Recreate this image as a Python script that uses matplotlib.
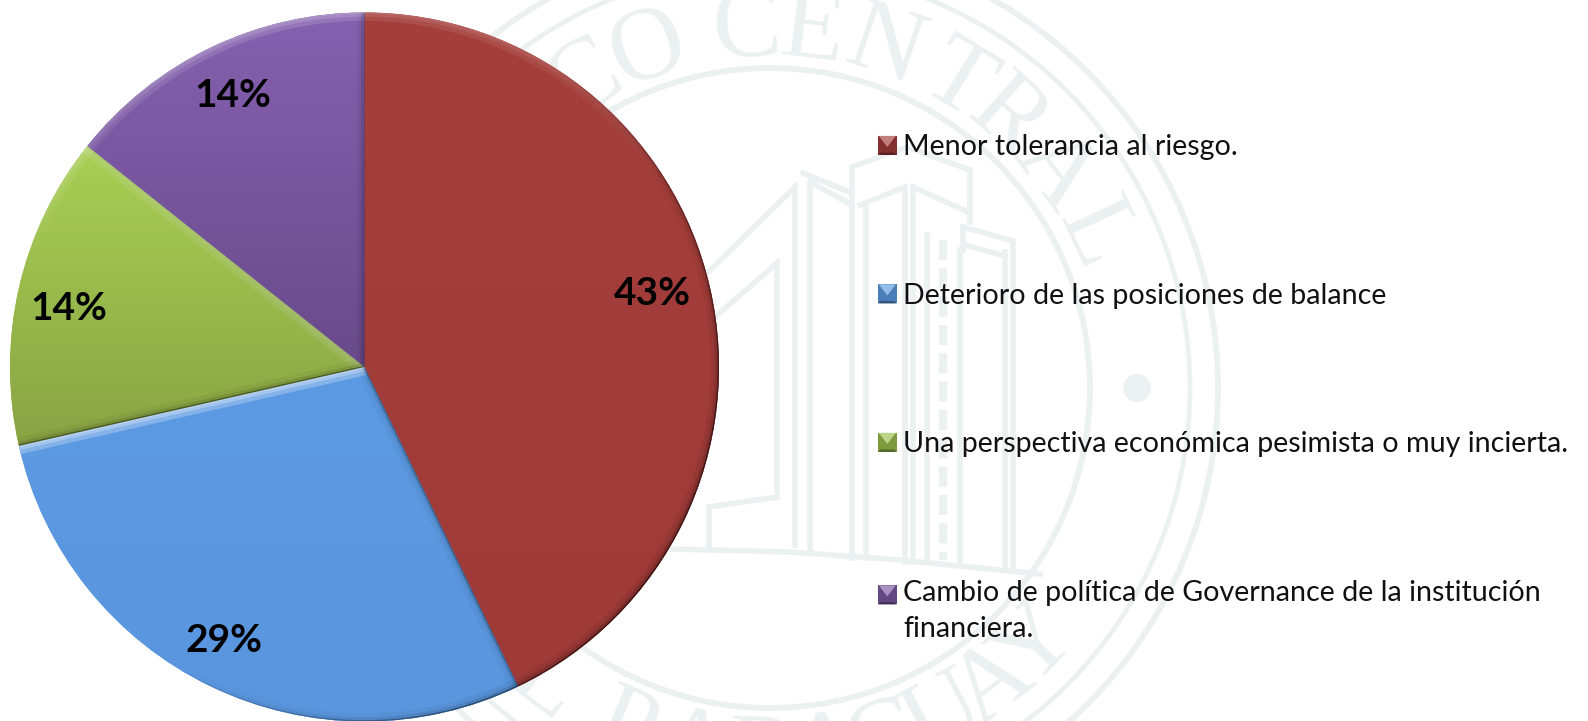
import numpy as np
import matplotlib
matplotlib.use("Agg")
import matplotlib.pyplot as plt
from matplotlib.collections import LineCollection
from matplotlib.colors import to_rgb
from matplotlib.legend_handler import HandlerBase
from matplotlib.patches import Circle, Polygon

categories = ["Menor tolerancia al riesgo.",
              "Deterioro de las posiciones de balance",
              "Una perspectiva económica pesimista o muy incierta.",
              "Cambio de política de Governance de la institución\nfinanciera."]
values = [3, 2, 1, 1]
base_colors = ["#A03B39", "#5B98E0", "#98BD4A", "#7A58A0"]
grad_top = ["#A53F3C", "#5C9AE3", "#A8D053", "#8661B0"]
grad_bottom = ["#9E3A38", "#5A96DE", "#89A444", "#694A8B"]
highlight_gain = [0.9, 2.6, 1.8, 1.4]
label_nudges = [(-6, 6), (-10, -2), (-2, -9), (-1, 0)]

W, H = 1588, 721
WM = "#EBF0F1"
plt.rcParams["font.family"] = ["Lato", "DejaVu Sans"]

fig = plt.figure(figsize=(W / 100, H / 100), dpi=100, facecolor="white")
ax = fig.add_axes([0, 0, 1, 1])

def Y(py):
    return H - py

# ---------- watermark seal ----------
cx, cy = 770, 388
for r, lw in [(448, 4.2), (420, 3.4), (320, 4.2)]:
    ax.add_patch(Circle((cx, Y(cy)), r, fill=False, ec=WM, lw=lw, zorder=1))
ax.add_patch(Circle((1137, Y(388)), 14, fc=WM, ec="none", zorder=1))

top_word = list("BANCOCENTRAL")
top_ang = [-67, -55, -43, -31, -19.8, -3.7, 6.9, 18.7, 31.5, 41.5, 52.8, 64.8]
bot_word = list("DELPARAGUAY")
bot_ang = [243, 230, 217, 203, 192, 181, 171, 162, 152, 143, 134]
for ch, a in zip(top_word, top_ang):
    t = np.radians(a)
    ax.text(cx + 358 * np.sin(t), Y(cy) + 358 * np.cos(t), ch, color=WM,
            family="Liberation Serif", fontsize=74, rotation=-a,
            rotation_mode="anchor", ha="center", va="center", zorder=1)
for ch, a in zip(bot_word, bot_ang):
    t = np.radians(a)
    ax.text(cx + 372 * np.sin(t), Y(cy) + 372 * np.cos(t), ch, color=WM,
            family="Liberation Serif", fontsize=74, rotation=180 - a,
            rotation_mode="anchor", ha="center", va="center", zorder=1)

building = [
    [(700, 280), (795, 187), (795, 545)],
    [(700, 330), (777, 263), (777, 497), (709, 507), (709, 548)],
    [(803, 173), (852, 193)],
    [(810, 185), (810, 552)],
    [(810, 182), (852, 205)],
    [(852, 167), (907, 147), (970, 170), (970, 222)],
    [(852, 167), (852, 558)],
    [(860, 205), (905, 187), (905, 562)],
    [(866, 205), (866, 558)],
    [(913, 187), (970, 213)],
    [(913, 187), (913, 562)],
    [(963, 227), (1013, 241), (1013, 570)],
    [(963, 227), (963, 250)],
    [(1005, 252), (1005, 568)],
    [(965, 245), (1005, 256)],
    [(927, 235), (927, 562)],
    [(960, 250), (960, 565)],
    [(672, 549), (790, 552), (900, 560), (1040, 574)],
]
for pl in building:
    xs, ys = zip(*pl)
    ax.plot(xs, [Y(v) for v in ys], color=WM, lw=4, solid_joinstyle="miter", zorder=1)
ax.plot([943, 943], [Y(240), Y(560)], color=WM, lw=6, ls=(0, (2.4, 1.0)), zorder=1)

# ---------- pie ----------
pcx, pcy, R = 364.5, Y(367), 354.5
wedges, _, autotexts = ax.pie(values, colors=base_colors, startangle=90, counterclock=False,
                              center=(pcx, pcy), radius=R, autopct="%.0f%%", pctdistance=0.85,
                              wedgeprops=dict(lw=0, zorder=2),
                              textprops=dict(fontsize=28, fontweight="bold", color="black", zorder=6))
for at, (dx, dy) in zip(autotexts, label_nudges):
    x0, y0 = at.get_position()
    at.set_position((x0 + dx, y0 + dy))

def lerp_img(c1, c2):
    a, b = np.array(to_rgb(c1)), np.array(to_rgb(c2))
    k = np.linspace(0, 1, 256)[:, None]
    return (a * (1 - k) + b * k)[:, None, :]

L_hi = np.array([-0.1, 1.0])
L_lo = np.array([0.85, -0.53])

def shade_strokes(segs, normals, lw, k_hi, k_lo, wedge, z):
    hi = np.clip((normals @ L_hi - 0.4) / 0.6, 0, 1)
    lo = np.clip(normals @ L_lo, 0, 1)
    c_hi = np.zeros((len(segs), 4))
    c_hi[:, :3] = 1.0
    c_hi[:, 3] = np.clip(k_hi * hi, 0, 1)
    c_lo = np.zeros((len(segs), 4))
    c_lo[:, 3] = k_lo * lo
    for cols in (c_hi, c_lo):
        lc = LineCollection(segs, colors=cols, linewidths=lw, capstyle="butt", zorder=z)
        ax.add_collection(lc)
        lc.set_clip_path(wedge)

for w, c1, c2, g in zip(wedges, grad_top, grad_bottom, highlight_gain):
    ext = [pcx - R, pcx + R]
    bb = w.get_path().transformed(w.get_patch_transform()).get_extents()
    im = ax.imshow(lerp_img(c1, c2), extent=[ext[0], ext[1], bb.y0, bb.y1], aspect="auto",
                   origin="upper", zorder=3, interpolation="bilinear")
    im.set_clip_path(w)
    t1, t2 = np.radians(w.theta1), np.radians(w.theta2)
    th = np.linspace(t1, t2, 160)
    px = pcx + R * np.cos(th)
    py = pcy + R * np.sin(th)
    arc = np.column_stack([px, py])
    segs = np.stack([arc[:-1], arc[1:]], axis=1)
    mids = 0.5 * (th[:-1] + th[1:])
    nrm = np.column_stack([np.cos(mids), np.sin(mids)])
    center = np.array([pcx, pcy])
    e1 = np.array([[center, center + R * np.array([np.cos(t1), np.sin(t1)])]])
    e2 = np.array([[center, center + R * np.array([np.cos(t2), np.sin(t2)])]])
    n1 = np.array([[np.sin(t1), -np.cos(t1)]])
    n2 = np.array([[-np.sin(t2), np.cos(t2)]])
    all_segs = np.concatenate([segs, e1, e2])
    all_n = np.concatenate([nrm, n1, n2])
    for lw, k_hi, k_lo, z in [(12, 0.10, 0.06, 4), (6, 0.10, 0.14, 4.1), (2.0, 0.08, 0.55, 4.2)]:
        shade_strokes(all_segs, all_n, lw, k_hi * g, k_lo, w, z)

# ---------- legend with bevelled keys ----------
class BevelHandler(HandlerBase):
    shift = 12.0

    def create_artists(self, legend, orig, xd, yd, width, height, fontsize, trans):
        base = np.array(to_rgb(orig.get_facecolor()[:3]))
        x0, y0 = -xd, -yd
        if "\n" in orig.get_label():
            y0 += self.shift
        x1, y1 = x0 + width, y0 + height
        b = 0.13 * width
        mid = (x0 + x1) / 2
        light = base + (1 - base) * 0.35
        dark = base * 0.55
        side = base * 0.82
        arts = [
            Polygon([(x0, y0), (x1, y0), (x1, y1), (x0, y1)], fc=side, ec="none"),
            Polygon([(x0, y0), (x1, y0), (x1 - b, y0 + b), (x0 + b, y0 + b)], fc=dark, ec="none"),
            Polygon([(x0 + b * 0.3, y1), (x1 - b * 0.3, y1), (mid, y0 + 0.42 * height)], fc=light, ec="none"),
        ]
        for a in arts:
            a.set_transform(trans)
        return arts

for w, lab in zip(wedges, categories):
    w.set_label(lab)

leg = ax.legend(wedges, categories, loc="upper left", bbox_to_anchor=(878, Y(134.5)),
                bbox_transform=ax.transData, frameon=False, fontsize=20.6,
                borderpad=0, borderaxespad=0, labelspacing=4.28,
                handlelength=0.65, handleheight=0.65, handletextpad=0.22,
                handler_map={type(wedges[0]): BevelHandler()})
leg.set_zorder(7)
for t in leg.get_texts():
    t.set_color("#111111")
    t.set_linespacing(1.5)

ax.set_aspect("equal")
ax.set_xlim(0, W)
ax.set_ylim(0, H)
ax.axis("off")
fig.savefig("out.png", dpi=100, facecolor="white")
